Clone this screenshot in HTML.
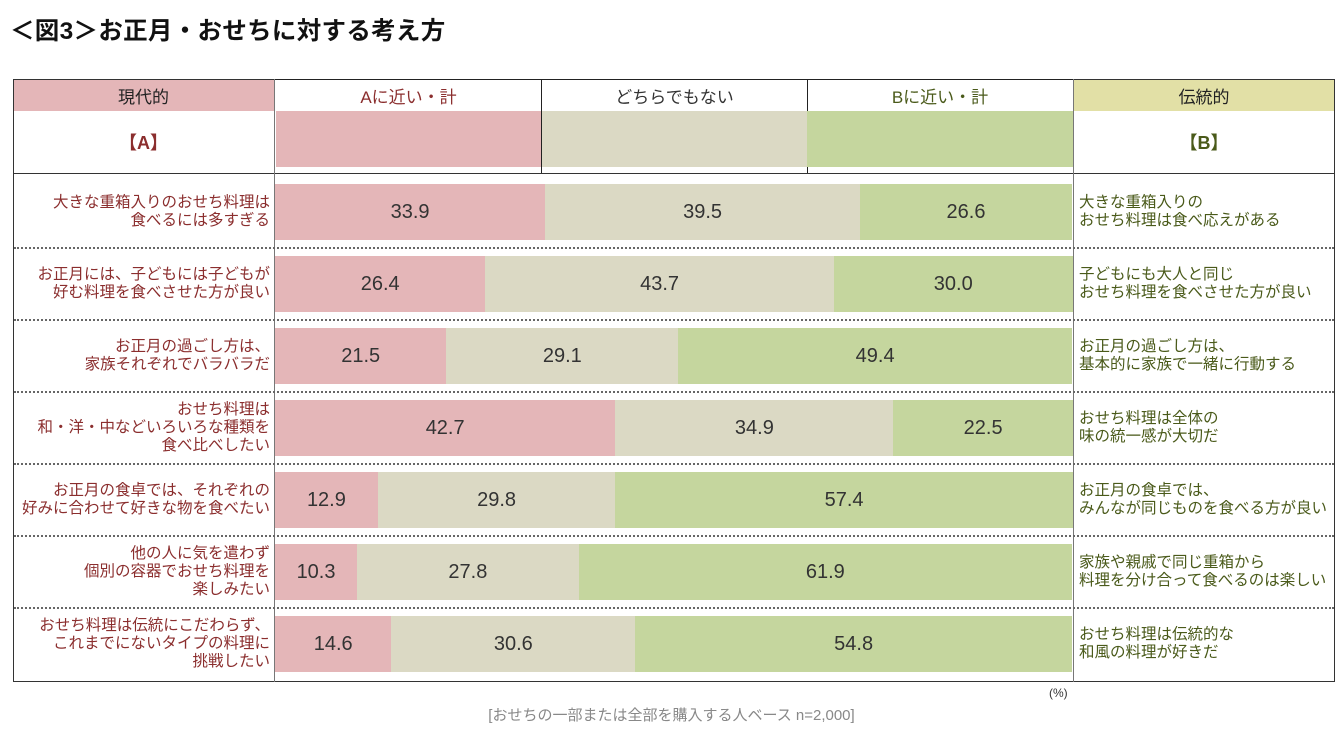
<!DOCTYPE html>
<html><head><meta charset="utf-8"><style>
body{margin:0;width:1343px;height:730px;background:#fff;position:relative;overflow:hidden;font-family:"Liberation Sans","Noto Sans CJK JP",sans-serif;}
.a{position:absolute;box-sizing:border-box;}
.t{display:flex;align-items:center;justify-content:center;}
.lab{font-size:15.5px;line-height:18px;}
</style></head><body>
<div class="a" style="left:10px;top:12px;font-size:24.5px;font-weight:bold;color:#111;letter-spacing:0.3px;">＜図3＞お正月・おせちに対する考え方</div>
<div class="a t" style="left:13px;top:79px;width:261px;height:32px;background:#e4b6b8;font-size:17px;color:#222;">現代的</div>
<div class="a t" style="left:13px;top:111px;width:261px;height:62px;font-size:18px;font-weight:bold;color:#8b2e2e;">【A】</div>
<div class="a t" style="left:1073px;top:79px;width:262px;height:32px;background:#e2e0a6;font-size:17px;color:#222;">伝統的</div>
<div class="a t" style="left:1073px;top:111px;width:262px;height:62px;font-size:18px;font-weight:bold;color:#4a5a1a;">【B】</div>
<div class="a" style="left:274px;top:79px;width:268px;height:95px;border:1px solid #222;border-right:none;"><div class="t" style="height:31px;font-size:17px;color:#8b2e2e;">Aに近い・計</div><div style="margin-left:1px;height:56px;background:#e4b6b8;"></div></div>
<div class="a" style="left:541px;top:79px;width:267px;height:95px;border:1px solid #222;"><div class="t" style="height:31px;font-size:17px;color:#333;">どちらでもない</div><div style="height:56px;background:#dbd9c4;"></div></div>
<div class="a" style="left:807px;top:79px;width:266px;height:95px;border-top:1px solid #222;"><div class="t" style="height:31px;font-size:17px;color:#4a5a1a;">Bに近い・計</div><div style="height:56px;background:#c5d69e;"></div></div>
<div class="a" style="left:13px;top:79px;width:1322px;height:603px;border:1px solid #333;border-top:none;"></div>
<div class="a" style="left:13px;top:79px;width:261px;height:1px;background:#333;"></div>
<div class="a" style="left:1073px;top:79px;width:262px;height:1px;background:#333;"></div>
<div class="a" style="left:13px;top:173px;width:1322px;height:1px;background:#333;"></div>
<div class="a" style="left:274px;top:79px;width:1px;height:603px;background:#777;"></div>
<div class="a" style="left:1073px;top:79px;width:1px;height:603px;background:#777;"></div>
<div id="rows"></div>
<div class="a" style="left:1049px;top:686px;font-size:12px;color:#333;">(%)</div>
<div class="a" style="left:0;width:1343px;top:704px;text-align:center;font-size:15px;color:#888;">[おせちの一部または全部を購入する人ベース n=2,000]</div>
<script>
const leftLabels=["大きな重箱入りのおせち料理は<br>食べるには多すぎる","お正月には、子どもには子どもが<br>好む料理を食べさせた方が良い","お正月の過ごし方は、<br>家族それぞれでバラバラだ","おせち料理は<br>和・洋・中などいろいろな種類を<br>食べ比べしたい","お正月の食卓では、それぞれの<br>好みに合わせて好きな物を食べたい","他の人に気を遣わず<br>個別の容器でおせち料理を<br>楽しみたい","おせち料理は伝統にこだわらず、<br>これまでにないタイプの料理に<br>挑戦したい"];
const rightLabels=["大きな重箱入りの<br>おせち料理は食べ応えがある","子どもにも大人と同じ<br>おせち料理を食べさせた方が良い","お正月の過ごし方は、<br>基本的に家族で一緒に行動する","おせち料理は全体の<br>味の統一感が大切だ","お正月の食卓では、<br>みんなが同じものを食べる方が良い","家族や親戚で同じ重箱から<br>料理を分け合って食べるのは楽しい","おせち料理は伝統的な<br>和風の料理が好きだ"];
const seriesA=[33.9,26.4,21.5,42.7,12.9,10.3,14.6];
const seriesN=[39.5,43.7,29.1,34.9,29.8,27.8,30.6];
const seriesB=[26.6,30.0,49.4,22.5,57.4,61.9,54.8];
const X0=275,W=797,TOP=184,PITCH=72,H=56;
const x=v=>v/100*W;
const root=document.getElementById('rows');
const cols=["#e4b6b8","#dbd9c4","#c5d69e"];
const names=["bar-a","bar-neutral","bar-b"];
for(let i=0;i<leftLabels.length;i++){
  const y=TOP+i*PITCH;
  const vals=[seriesA[i],seriesN[i],seriesB[i]];
  let cx=X0;
  vals.forEach((v,k)=>{
    const d=document.createElement('div');
    d.className='a t';
    
    
    const w=x(v);
    d.style.cssText=`left:${cx}px;top:${y}px;width:${w}px;height:${H}px;background:${cols[k]};font-size:20px;color:#333;`;
    d.textContent=v.toFixed(1);
    root.appendChild(d);cx+=w;
  });
  const l=document.createElement('div');
  l.className='a lab';
  
  
  l.style.cssText=`right:${1343-270}px;top:${y+28}px;transform:translateY(-50%);text-align:right;color:#8b2e2e;white-space:nowrap;`;
  l.innerHTML=leftLabels[i];root.appendChild(l);
  const r=document.createElement('div');
  r.className='a lab';
  
  
  r.style.cssText=`left:1079px;top:${y+28}px;transform:translateY(-50%);color:#4a5a1a;white-space:nowrap;`;
  r.innerHTML=rightLabels[i];root.appendChild(r);
  if(i<leftLabels.length-1){
    const s=document.createElement('div');
    s.className='a';
    
    
    s.style.cssText=`left:14px;top:${y+63}px;width:1320px;height:0;border-top:2px dotted #666;`;
    root.appendChild(s);
  }
}
</script>
</body></html>
